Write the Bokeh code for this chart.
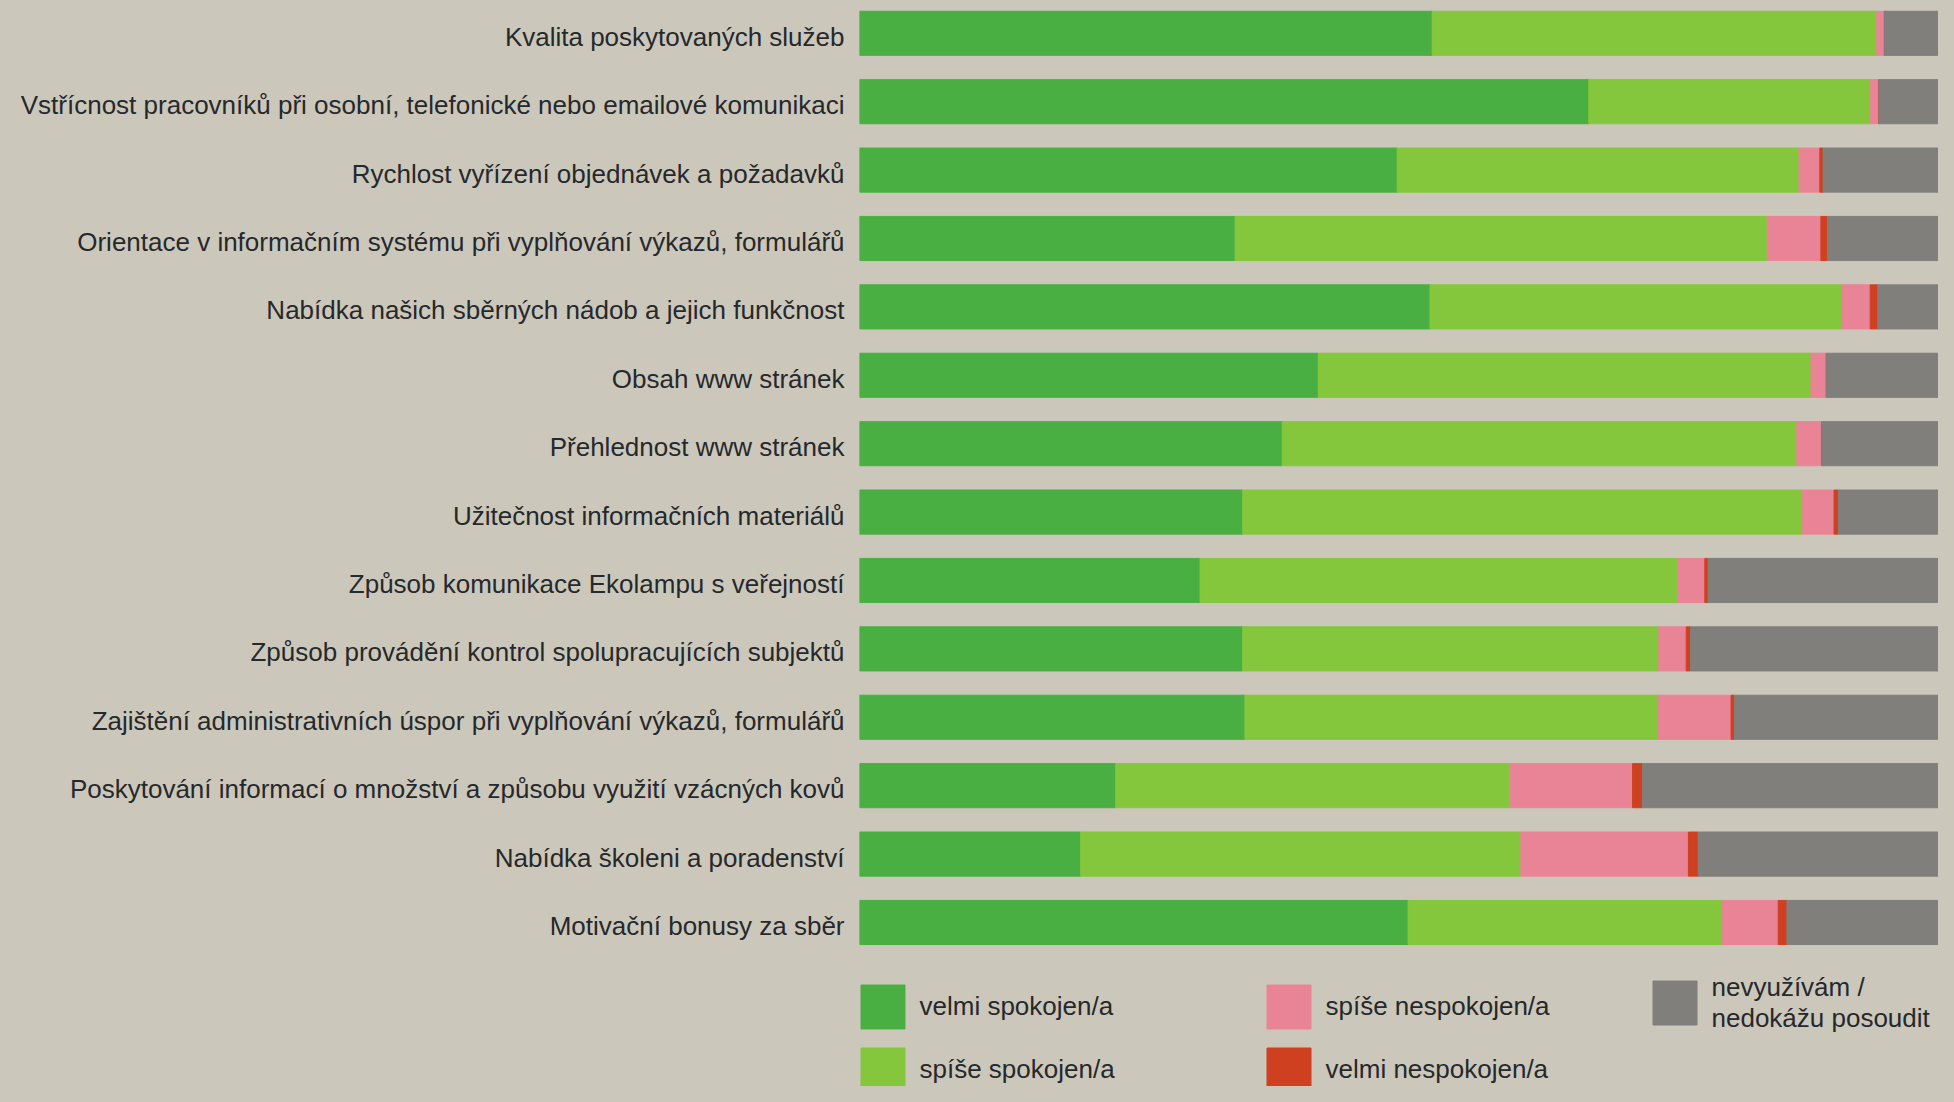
from bokeh.plotting import figure
from bokeh.models import ColumnDataSource, Range1d, FixedTicker, Legend, LegendItem
from bokeh.embed import file_html
from bokeh.resources import INLINE

# ---- data (top to bottom) ----
categories = [
    "Kvalita poskytovaných služeb",
    "Vstřícnost pracovníků při osobní, telefonické nebo emailové komunikaci",
    "Rychlost vyřízení objednávek a požadavků",
    "Orientace v informačním systému při vyplňování výkazů, formulářů",
    "Nabídka našich sběrných nádob a jejich funkčnost",
    "Obsah www stránek",
    "Přehlednost www stránek",
    "Užitečnost informačních materiálů",
    "Způsob komunikace Ekolampu s veřejností",
    "Způsob provádění kontrol spolupracujících subjektů",
    "Zajištění administrativních úspor při vyplňování výkazů, formulářů",
    "Poskytování informací o množství a způsobu využití vzácných kovů",
    "Nabídka školeni a poradenství",
    "Motivační bonusy za sběr",
]
velmi_spokojen = [52.3, 66.6, 49.1, 34.3, 52.1, 41.9, 38.6, 35.0, 31.1, 35.0, 35.2, 23.4, 20.2, 50.1]
spise_spokojen = [40.6, 25.7, 36.7, 48.6, 37.6, 45.0, 47.0, 51.1, 43.6, 38.0, 37.7, 36.0, 40.2, 28.7]
spise_nespokojen = [0.7, 0.8, 1.9, 4.9, 2.6, 1.4, 2.3, 2.9, 2.5, 2.5, 6.7, 11.2, 15.3, 5.1]
velmi_nespokojen = [0.0, 0.0, 0.3, 0.6, 0.7, 0.0, 0.0, 0.4, 0.3, 0.4, 0.3, 0.9, 0.9, 0.8]
nevyuzivam = [6.4, 6.9, 12.0, 11.6, 7.0, 11.7, 12.1, 10.6, 22.5, 24.1, 20.1, 28.5, 23.4, 15.3]

series_keys = ["velmi_spokojen", "spise_spokojen", "spise_nespokojen", "velmi_nespokojen", "nevyuzivam"]
series_labels = ["velmi spokojen/a", "spíše spokojen/a", "spíše nespokojen/a",
                 "velmi nespokojen/a", "nevyužívám /\nnedokážu posoudit"]
colors = ["#4aaf42", "#84c73c", "#e98496", "#cf4020", "#807f7c"]

BG = "#ccc7bb"
TEXT = "#26292c"
FONT = "Liberation Sans"

source = ColumnDataSource(dict(
    y=list(range(len(categories))),
    velmi_spokojen=velmi_spokojen,
    spise_spokojen=spise_spokojen,
    spise_nespokojen=spise_nespokojen,
    velmi_nespokojen=velmi_nespokojen,
    nevyuzivam=nevyuzivam,
))

p = figure(width=1938, height=1086,
           x_range=Range1d(0, 98.54), y_range=Range1d(15.398, -0.4795),
           x_axis_location=None,
           output_backend="svg", toolbar_location=None,
           min_border_left=859, min_border_right=0, min_border_top=0, min_border_bottom=0)
p.background_fill_alpha = 0
p.border_fill_color = BG
p.outline_line_color = None
p.grid.visible = False

renderers = p.hbar_stack(series_keys, y="y", height=0.645, color=colors, source=source)

# category labels on the left axis (labels sit slightly below bar centres, as in the original)
label_pos = [i + 0.05 for i in range(len(categories))]
ax = p.yaxis[0]
ax.ticker = FixedTicker(ticks=label_pos)
ax.major_label_overrides = {t: c for t, c in zip(label_pos, categories)}
ax.axis_line_color = None
ax.major_tick_line_color = None
ax.minor_tick_line_color = None
ax.major_tick_in = 0
ax.major_tick_out = 0
ax.major_label_standoff = 15
ax.major_label_text_font = FONT
ax.major_label_text_font_size = "26px"
ax.major_label_text_color = TEXT

common = dict(glyph_width=55, glyph_height=55, label_standoff=10,
              padding=0, margin=0, border_line_color=None, background_fill_alpha=0,
              label_text_font=FONT, label_text_font_size="26px", label_text_color=TEXT)

legend1 = Legend(items=[LegendItem(label=series_labels[i], renderers=[renderers[i]]) for i in range(4)],
                 location=(-4.5, -10.5), orientation="vertical", nrows=2,
                 label_width=333, spacing=8, **common)
legend2 = Legend(items=[LegendItem(label=series_labels[4], renderers=[renderers[4]])],
                 location=(787.5, 52.5), orientation="vertical",
                 label_text_line_height=0.9, **common)
p.add_layout(legend1)
p.add_layout(legend2)

html = file_html(p, INLINE)
html = html.replace("<head>", "<head><style>body{background:%s;}</style>" % BG, 1)
open("out.html", "w", encoding="utf-8").write(html)
